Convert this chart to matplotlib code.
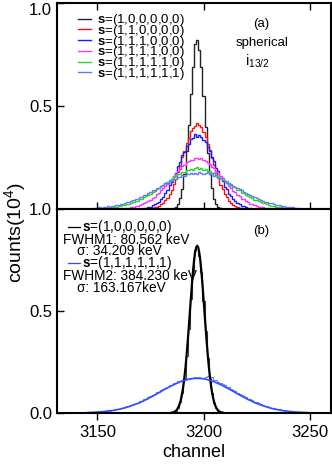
import numpy as np
import matplotlib
matplotlib.use('Agg')
import matplotlib.pyplot as plt

plt.rcParams['font.family'] = ['Liberation Sans', 'DejaVu Sans']
plt.rcParams['mathtext.fontset'] = 'custom'
plt.rcParams['mathtext.rm'] = 'Liberation Sans'
plt.rcParams['mathtext.bf'] = 'Liberation Sans:bold'
plt.rcParams['mathtext.it'] = 'Liberation Sans:italic'

# histogram counts (10^4) per channel; each starts at its own channel
black_start = 3186
black = [0.004, 0.011, 0.026, 0.052, 0.098, 0.17, 0.28, 0.41, 0.56, 0.69, 0.80, 0.82,
         0.77, 0.69, 0.55, 0.40, 0.27, 0.17, 0.10, 0.05, 0.024, 0.010, 0.004]

red_start = 3176
red = [0.004, 0.008, 0.010, 0.014, 0.022, 0.029, 0.043, 0.054, 0.075, 0.092, 0.122, 0.146,
       0.182, 0.210, 0.252, 0.280, 0.322, 0.345, 0.378, 0.392, 0.402, 0.418, 0.410, 0.396,
       0.372, 0.350, 0.315, 0.287, 0.246, 0.216, 0.176, 0.150, 0.117, 0.096, 0.071, 0.056,
       0.040, 0.031, 0.020, 0.016, 0.010, 0.007, 0.005]

blue_start = 3172
blue = [0.005, 0.006, 0.010, 0.012, 0.018, 0.022, 0.031, 0.036, 0.051, 0.059,
        0.079, 0.090, 0.115, 0.130, 0.160, 0.176, 0.210, 0.226, 0.260, 0.276,
        0.308, 0.318, 0.342, 0.346, 0.364, 0.352, 0.358, 0.350, 0.334, 0.325,
        0.300, 0.284, 0.252, 0.235, 0.200, 0.184, 0.152, 0.137, 0.108, 0.097,
        0.073, 0.063, 0.047, 0.040, 0.029, 0.024, 0.016, 0.013, 0.009, 0.007, 0.005]

magenta_start = 3163
magenta = [0.004, 0.005, 0.007, 0.009, 0.010, 0.014, 0.015, 0.020, 0.022, 0.029,
           0.032, 0.040, 0.045, 0.054, 0.060, 0.071, 0.079, 0.091, 0.100, 0.113,
           0.122, 0.137, 0.147, 0.162, 0.171, 0.186, 0.194, 0.208, 0.214, 0.226,
           0.231, 0.238, 0.240, 0.246, 0.250,
           0.243, 0.247, 0.236, 0.233, 0.222, 0.217, 0.204, 0.198, 0.182, 0.175,
           0.158, 0.150, 0.134, 0.126, 0.110, 0.103, 0.088, 0.082, 0.068, 0.062,
           0.051, 0.047, 0.037, 0.034, 0.026, 0.024, 0.018, 0.017, 0.012, 0.011,
           0.008, 0.007, 0.005, 0.004]

green_start = 3153
green = [0.004, 0.006, 0.005, 0.008, 0.009, 0.011, 0.012, 0.014, 0.016, 0.019,
         0.021, 0.024, 0.025, 0.031, 0.033, 0.039, 0.041, 0.048, 0.051, 0.059,
         0.062, 0.070, 0.074, 0.083, 0.088, 0.097, 0.103, 0.112, 0.117, 0.127,
         0.132, 0.141, 0.145, 0.155, 0.158, 0.168, 0.170, 0.178, 0.180, 0.187,
         0.188, 0.194, 0.191, 0.197, 0.205,
         0.193, 0.201, 0.190, 0.194, 0.183, 0.185, 0.174, 0.175, 0.163, 0.162,
         0.150, 0.149, 0.137, 0.135, 0.122, 0.120, 0.108, 0.106, 0.094, 0.092,
         0.080, 0.079, 0.067, 0.065, 0.056, 0.054, 0.046, 0.044, 0.037, 0.035,
         0.029, 0.028, 0.022, 0.021, 0.017, 0.016, 0.012, 0.012, 0.009, 0.009,
         0.007, 0.006, 0.005, 0.004]

lblue_start = 3149
lblue = [0.005, 0.006, 0.008, 0.007, 0.010, 0.009, 0.013, 0.012, 0.016, 0.015,
         0.020, 0.019, 0.025, 0.023, 0.030, 0.032, 0.034, 0.041, 0.043, 0.049,
         0.050, 0.058, 0.060, 0.067, 0.070, 0.078, 0.081, 0.090, 0.092, 0.101,
         0.104, 0.113, 0.116, 0.125, 0.127, 0.136, 0.138, 0.146, 0.147, 0.155,
         0.156, 0.163, 0.161, 0.169, 0.168, 0.174, 0.170, 0.176, 0.172,
         0.178, 0.173, 0.172, 0.176, 0.180, 0.170, 0.175, 0.160, 0.164, 0.150,
         0.149, 0.140, 0.137, 0.128, 0.126, 0.118, 0.114, 0.107, 0.100, 0.095,
         0.090, 0.083, 0.078, 0.071, 0.067, 0.062, 0.056, 0.053, 0.048, 0.044,
         0.040, 0.036, 0.034, 0.029, 0.027, 0.024, 0.021, 0.019, 0.018, 0.015,
         0.013, 0.012, 0.010, 0.009, 0.008, 0.007, 0.006, 0.005]

# gaussian fit curves of panel (b), read at regular channel steps
fit1_start, fit1_step = 3185, 0.5
fit1 = [0.002, 0.003, 0.005, 0.007, 0.011, 0.017, 0.026, 0.037, 0.053, 0.074, 0.101, 0.135,
        0.176, 0.225, 0.282, 0.346, 0.414, 0.486, 0.558, 0.628, 0.691, 0.745, 0.786, 0.811,
        0.82, 0.811, 0.786, 0.745, 0.691, 0.628, 0.558, 0.486, 0.414, 0.346, 0.282, 0.225,
        0.176, 0.135, 0.101, 0.074, 0.053, 0.037, 0.026, 0.017, 0.011, 0.007, 0.005, 0.003, 0.002]

fit2_start, fit2_step = 3145, 2
fit2 = [0.002, 0.003, 0.004, 0.005, 0.007, 0.010, 0.012, 0.016, 0.020, 0.026, 0.032, 0.039,
        0.047, 0.056, 0.066, 0.077, 0.088, 0.100, 0.112, 0.123, 0.134, 0.144, 0.153, 0.160,
        0.166, 0.169, 0.170, 0.169, 0.166, 0.160, 0.153, 0.144, 0.134, 0.123, 0.112, 0.100,
        0.088, 0.077, 0.066, 0.056, 0.047, 0.039, 0.032, 0.026, 0.020, 0.016, 0.012, 0.010,
        0.007, 0.005, 0.004, 0.003, 0.002]

labels = ['(1,0,0,0,0,0)', '(1,1,0,0,0,0)', '(1,1,1,0,0,0)',
          '(1,1,1,1,0,0)', '(1,1,1,1,1,0)', '(1,1,1,1,1,1)']
fwhm_text = ['FWHM1: 80.562 keV', 'FWHM2: 384.230 keV']
sigma_text = ['σ: 34.209 keV', 'σ: 163.167keV']


def edges(start, vals):
    return np.arange(start, start + len(vals) + 1) - 0.5


fig = plt.figure(figsize=(3.32, 4.65), dpi=100)
ax1 = fig.add_axes([57/332, 0.5505, 274/332, 0.443])
ax2 = fig.add_axes([57/332, 0.1118, 274/332, 0.4387])

series = [(black_start, black, '#222222'), (red_start, red, '#ff1010'),
          (blue_start, blue, '#1a1aff'), (magenta_start, magenta, '#ff33ff'),
          (green_start, green, '#22dd22'), (lblue_start, lblue, '#6677ff')]
for (st, vals, col), lab in zip(series, labels):
    ax1.stairs(vals, edges(st, vals), color=col, lw=1.0,
               label=r'$\mathbf{s}$=' + lab)

ax1.legend(loc='upper left', bbox_to_anchor=(0.077, 0.955), frameon=False,
           fontsize=9.5, handlelength=1.0, handletextpad=0.45,
           labelspacing=-0.4, borderpad=0, borderaxespad=0)
ax1.text(0.745, 0.898, '(a)', transform=ax1.transAxes, ha='center', va='center', fontsize=9.5)
ax1.text(0.748, 0.806, 'spherical', transform=ax1.transAxes, ha='center', va='center', fontsize=9.5)
ax1.text(0.73, 0.715, r'i$_{13/2}$', transform=ax1.transAxes, ha='center', va='center', fontsize=10.5)

# panel (b)
ax2.stairs(black, edges(black_start, black), color='#444444', lw=0.8)
ax2.stairs(lblue, edges(lblue_start, lblue), color='#6a80ff', lw=0.8)
ax2.plot(fit1_start + fit1_step*np.arange(len(fit1)), fit1, color='black', lw=1.6)
ax2.plot(fit2_start + fit2_step*np.arange(len(fit2)), fit2, color='#2f4fff', lw=1.2)

tx = ax2.transAxes
fs = 9.8
ax2.plot([0.040, 0.084], [0.912, 0.912], color='black', lw=0.9, transform=tx)
ax2.text(0.092, 0.912, r'$\mathbf{s}$=' + labels[0], transform=tx, va='center', fontsize=fs)
ax2.text(0.022, 0.850, fwhm_text[0], transform=tx, va='center', fontsize=fs)
ax2.text(0.073, 0.792, sigma_text[0], transform=tx, va='center', fontsize=fs)
ax2.plot([0.040, 0.084], [0.735, 0.735], color='#2f4fff', lw=0.9, transform=tx)
ax2.text(0.092, 0.735, r'$\mathbf{s}$=' + labels[5], transform=tx, va='center', fontsize=fs)
ax2.text(0.022, 0.672, fwhm_text[1], transform=tx, va='center', fontsize=fs)
ax2.text(0.073, 0.613, sigma_text[1], transform=tx, va='center', fontsize=fs)
ax2.text(0.745, 0.892, '(b)', transform=tx, ha='center', va='center', fontsize=9.5)

for ax in (ax1, ax2):
    ax.set_xlim(3131, 3260)
    ax.set_xticks([3150, 3200, 3250])
    for s in ax.spines.values():
        s.set_linewidth(1.5)

ax1.set_ylim(0, 1.0)
ax1.set_yticks([0.5, 1.0])
ax1.set_yticklabels(['0.5', '1.0'])
ax1.tick_params(axis='x', direction='in', top=True, labelbottom=False, length=5, width=1)
ax1.tick_params(axis='y', direction='in', length=5, width=1, labelsize=12)
ax1.get_yticklabels()[1].set_verticalalignment('top')

ax2.set_ylim(0, 1.0)
ax2.set_yticks([0.0, 0.5, 1.0])
ax2.set_yticklabels(['0.0', '0.5', '1.0'])
ax2.tick_params(axis='x', direction='out', length=5, width=1, labelsize=12)
ax2.tick_params(axis='y', direction='in', length=5, width=1, labelsize=12)
ax2.set_xlabel('channel', fontsize=13, labelpad=3)

fig.text(0.045, 0.5, r'counts(10$^4$)', rotation=90, ha='center', va='center', fontsize=14)

fig.savefig('out.png', dpi=100)
